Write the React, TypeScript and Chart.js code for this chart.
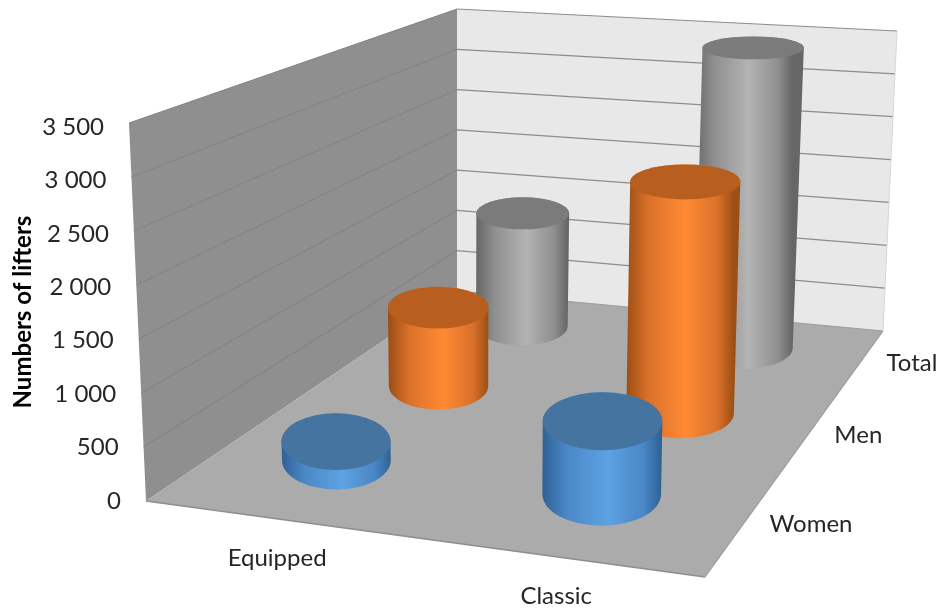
import React, { useEffect, useRef } from "react";
import { Chart, BarController, BarElement, CategoryScale, LinearScale } from "chart.js";

const categories = ["Equipped", "Classic"];
const women = [180, 670];
const men = [835, 2370];
const total = [1320, 3400];
const seriesNames = ["Women", "Men", "Total"];
const valueMax = 3500;
const valueStep = 500;

const FONT = "Lato, 'Open Sans', sans-serif";
const quadFloor: number[][] = [[146, 501], [705, 577], [883, 331], [457, 291]];
const quadTop: number[][] = [[129, 123], [713, 164], [897, 31], [457, 9]];
const RU = 0.107;
const RV = 0.107;
const LIFT = 14;

function makeHomography(q: number[][]) {
  const [[x0, y0], [x1, y1], [x2, y2], [x3, y3]] = q;
  const dx1 = x1 - x2, dx2 = x3 - x2, dx3 = x0 - x1 + x2 - x3;
  const dy1 = y1 - y2, dy2 = y3 - y2, dy3 = y0 - y1 + y2 - y3;
  const den = dx1 * dy2 - dx2 * dy1;
  const g = (dx3 * dy2 - dx2 * dy3) / den;
  const h = (dx1 * dy3 - dx3 * dy1) / den;
  const a = x1 - x0 + g * x1, b = x3 - x0 + h * x3;
  const d = y1 - y0 + g * y1, e = y3 - y0 + h * y3;
  return (u: number, v: number): [number, number] => {
    const w = g * u + h * v + 1;
    return [(a * u + b * v + x0) / w, (d * u + e * v + y0) / w];
  };
}
const floorH = makeHomography(quadFloor);
const topH = makeHomography(quadTop);

function project(u: number, v: number, t: number): [number, number] {
  const p = floorH(u, v);
  const q = topH(u, v);
  return [p[0] + (q[0] - p[0]) * t, p[1] + (q[1] - p[1]) * t];
}

function heightFraction(chart: any, value: number) {
  const s = chart.scales.y;
  return (s.bottom - s.getPixelForValue(value)) / (s.bottom - s.top);
}

function discAt(u: number, v: number, t: number) {
  let minY = Infinity, maxY = -Infinity;
  for (let i = 0; i < 72; i++) {
    const a = (i / 72) * Math.PI * 2;
    const y = project(u + RU * Math.cos(a), v + RV * Math.sin(a), t)[1];
    minY = Math.min(minY, y);
    maxY = Math.max(maxY, y);
  }
  const c = project(u, v, t);
  const l = project(u - RU, v, t);
  const r = project(u + RU, v, t);
  return { cx: c[0], cy: c[1] - LIFT * (1 - v), rx: Math.abs(r[0] - l[0]) / 2, ry: (maxY - minY) / 2 };
}

class CylinderController extends BarController {
  static id = "cylinder3d";
  static defaults = BarController.defaults;
  static overrides = BarController.overrides;
  draw() {
    const chart: any = this.chart;
    const ctx = chart.ctx;
    const meta: any = this.getMeta();
    const ds: any = this.getDataset();
    const n = chart.data.datasets.length;
    const sx = chart.scales.x;
    const v = (this.index + 0.5) / n;
    meta.data.forEach((_: any, i: number) => {
      const parsed: any = this.getParsed(i);
      const u = (sx.getPixelForValue(parsed.x) - sx.left) / (sx.right - sx.left);
      const t = heightFraction(chart, parsed.y);
      const b = discAt(u, v, 0);
      const a = discAt(u, v, t);
      ctx.save();
      const grad = ctx.createLinearGradient(b.cx - b.rx, 0, b.cx + b.rx, 0);
      grad.addColorStop(0, ds.edgeColor);
      grad.addColorStop(0.2, ds.edgeColor2);
      grad.addColorStop(0.55, ds.midColor);
      grad.addColorStop(0.85, ds.edgeColor2);
      grad.addColorStop(1, ds.edgeColor);
      ctx.beginPath();
      ctx.ellipse(b.cx, b.cy, b.rx, b.ry, 0, Math.PI, 0, true);
      ctx.lineTo(a.cx + a.rx, a.cy);
      ctx.ellipse(a.cx, a.cy, a.rx, a.ry, 0, 0, Math.PI, true);
      ctx.closePath();
      ctx.fillStyle = grad;
      ctx.fill();
      ctx.beginPath();
      ctx.ellipse(a.cx, a.cy, a.rx, a.ry, 0, 0, Math.PI * 2);
      ctx.fillStyle = ds.topColor;
      ctx.fill();
      ctx.restore();
    });
  }
}

function poly(ctx: any, pts: number[][], fill: string) {
  ctx.beginPath();
  pts.forEach((p, i) => (i ? ctx.lineTo(p[0], p[1]) : ctx.moveTo(p[0], p[1])));
  ctx.closePath();
  ctx.fillStyle = fill;
  ctx.fill();
}

function seg(ctx: any, p: number[], q: number[], color: string, w: number) {
  ctx.beginPath();
  ctx.moveTo(p[0], p[1]);
  ctx.lineTo(q[0], q[1]);
  ctx.strokeStyle = color;
  ctx.lineWidth = w;
  ctx.stroke();
}

const scenePlugin = {
  id: "scene3d",
  beforeDraw(chart: any) {
    const s = chart.scales.y;
    s.getLabelItems(chart.chartArea).forEach((item: any, i: number) => {
      const value = s.ticks[i].value;
      const t = heightFraction(chart, value);
      item.options.translation[0] = project(0, 0, t)[0] - 25;
      item.options.translation[1] = s.getPixelForValue(value) + 4 * t;
    });
  },
  beforeDatasetsDraw(chart: any) {
    const ctx = chart.ctx;
    const s = chart.scales.y;
    ctx.save();
    poly(ctx, [project(0, 0, 0), project(0, 1, 0), project(0, 1, 1), project(0, 0, 1)], "#8f8f8f");
    poly(ctx, [project(0, 1, 0), project(1, 1, 0), project(1, 1, 1), project(0, 1, 1)], "#e8e8e8");
    poly(ctx, [project(0, 0, 0), project(1, 0, 0), project(1, 1, 0), project(0, 1, 0)], "#ababab");
    s.ticks.forEach((tick: any) => {
      const t = heightFraction(chart, tick.value);
      if (t > 0) {
        seg(ctx, project(0, 0, t), project(0, 1, t), "#828282", 1);
        seg(ctx, project(0, 1, t), project(1, 1, t), "#8c8c8c", 1.2);
      }
    });
    seg(ctx, project(0, 0, 0), project(1, 0, 0), "#8e8e8e", 1.5);
    seg(ctx, project(1, 0, 0), project(1, 1, 0), "#9a9a9a", 1.2);
    seg(ctx, project(0, 1, 0), project(1, 1, 0), "#9a9a9a", 1);
    seg(ctx, project(1, 1, 0), project(1, 1, 1), "#d6d6d6", 1);
    ctx.restore();
  },
  afterDatasetsDraw(chart: any) {
    const ctx = chart.ctx;
    const sx = chart.scales.x;
    ctx.save();
    ctx.font = `24px ${FONT}`;
    ctx.fillStyle = "#262626";
    ctx.textBaseline = "middle";
    ctx.textAlign = "center";
    sx.getLabels().forEach((label: string, i: number) => {
      const u = (sx.getPixelForValue(i) - sx.left) / (sx.right - sx.left);
      const p = project(u, 0, 0);
      ctx.fillText(label, p[0] + 1, p[1] + 40);
    });
    ctx.textAlign = "left";
    seriesNames.forEach((label, i) => {
      const p = project(1, (i + 0.5) / seriesNames.length, 0);
      ctx.fillText(label, p[0] + 26, p[1] + 1);
    });
    ctx.restore();
  },
};

Chart.register(CylinderController, BarElement, CategoryScale, LinearScale);

const style = (edgeColor: string, edgeColor2: string, midColor: string, topColor: string) => ({
  edgeColor, edgeColor2, midColor, topColor, clip: false as const,
});

export default function App() {
  const ref = useRef<HTMLCanvasElement>(null);
  useEffect(() => {
    const chart = new Chart(ref.current as HTMLCanvasElement, {
      type: "cylinder3d" as any,
      data: {
        labels: categories,
        datasets: [
          { label: seriesNames[0], data: women, ...style("#2f6296", "#4a87c6", "#5da2e2", "#44749f") },
          { label: seriesNames[1], data: men, ...style("#9c4f14", "#d9702a", "#ff8a33", "#b85f20") },
          { label: seriesNames[2], data: total, ...style("#666666", "#8f8f8f", "#b3b3b3", "#7b7b7b") },
        ] as any,
      },
      options: {
        animation: false,
        responsive: false,
        devicePixelRatio: 1,
        layout: { padding: { top: 123, bottom: 109, left: 0, right: 4 } },
        plugins: { legend: { display: false }, tooltip: { enabled: false }, title: { display: false } } as any,
        scales: {
          x: { display: false, type: "category", offset: true },
          y: {
            type: "linear",
            min: 0,
            max: valueMax,
            afterFit: (s: any) => { s.width = 129; },
            grid: { display: false, drawTicks: false },
            border: { display: false },
            ticks: {
              stepSize: valueStep,
              padding: 25,
              color: "#262626",
              font: { family: FONT, size: 24 },
              callback: (v: any) => String(v).replace(/\B(?=(\d{3})+$)/g, " "),
            },
            title: {
              display: true,
              text: "Numbers of lifters",
              color: "#000000",
              font: { family: FONT, size: 24, weight: "bold" },
              padding: { top: 9, bottom: 0 },
            },
          },
        },
      } as any,
      plugins: [scenePlugin],
    });
    return () => chart.destroy();
  }, []);
  return (
    <div style={{ position: "absolute", left: 0, top: 0, width: 944, height: 610, background: "#fff" }}>
      <canvas ref={ref} width={944} height={610} style={{ display: "block" }} />
    </div>
  );
}
